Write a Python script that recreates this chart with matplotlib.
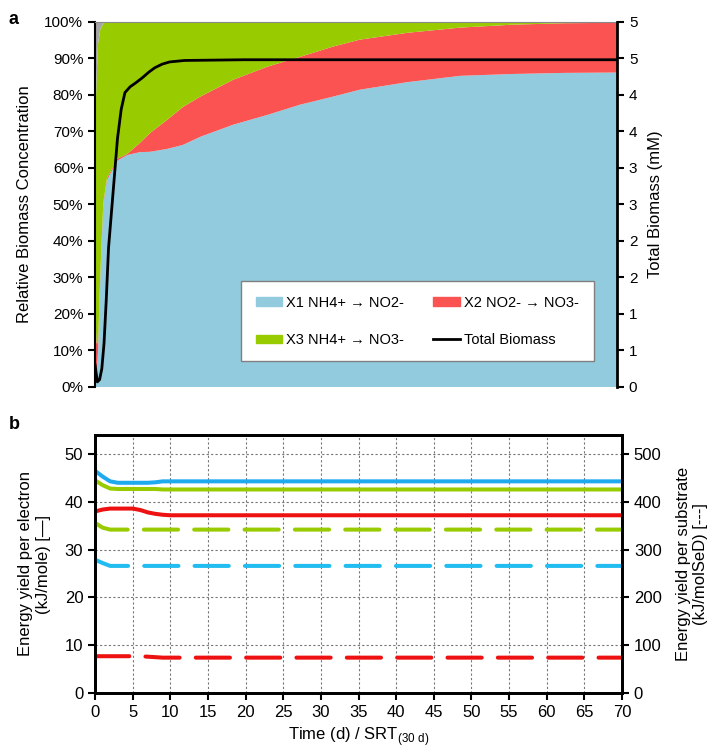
import matplotlib
matplotlib.use("Agg")
import matplotlib.pyplot as plt
import numpy as np

plt.rcParams['font.family'] = ['Liberation Sans', 'DejaVu Sans']

# panel a: relative biomass fractions over time (d)
t_a = [0, 0.2, 0.4, 0.7, 1.1, 1.6, 3, 4.3, 6, 7.4, 9.7, 11.8, 14.1, 18.5,
       23.1, 27.5, 31.9, 35.5, 42, 49, 56, 63, 70]
x1_share = [0.0, 0.03, 0.10, 0.30, 0.50, 0.567, 0.62, 0.635, 0.643, 0.644,
            0.652, 0.663, 0.685, 0.718, 0.745, 0.773, 0.795, 0.814, 0.835,
            0.852, 0.857, 0.86, 0.861]
x2_share = [0.2, 0.09, 0.02, 0.01, 0.005, 0.005, 0.005, 0.003, 0.025, 0.052,
            0.08, 0.104, 0.11, 0.123, 0.132, 0.131, 0.137, 0.137, 0.135,
            0.132, 0.135, 0.136, 0.136]
x4_share = [0.3, 0.15, 0.06, 0.02, 0.005, 0, 0, 0, 0, 0, 0, 0, 0, 0, 0, 0,
            0, 0, 0, 0, 0, 0, 0]

t_bio = [0, 0.3, 0.6, 0.9, 1.2, 1.5, 1.8, 2.2, 2.6, 3.0, 3.5, 4.0, 4.7, 5.4,
         6.3, 7.2, 8.0, 9.0, 10, 12, 20, 40, 70]
total_biomass = [0.3, 0.07, 0.1, 0.25, 0.6, 1.2, 1.9, 2.4, 2.9, 3.4, 3.8,
                 4.03, 4.11, 4.16, 4.23, 4.31, 4.37, 4.42, 4.45, 4.47, 4.48,
                 4.48, 4.48]

# panel b: energy yields
t_b = [0, 1, 2, 3, 4, 5, 6, 7, 8, 9, 10, 15, 20, 30, 40, 50, 60, 70]
blue_solid = [46.5, 45.3, 44.3, 44.0, 44.0, 44.0, 44.0, 44.0, 44.1, 44.3,
              44.3, 44.3, 44.3, 44.3, 44.3, 44.3, 44.3, 44.3]
green_solid = [44.5, 43.5, 42.8, 42.7, 42.7, 42.7, 42.7, 42.7, 42.7, 42.6,
               42.6, 42.6, 42.6, 42.6, 42.6, 42.6, 42.6, 42.6]
red_solid = [38.0, 38.4, 38.6, 38.6, 38.6, 38.6, 38.3, 37.8, 37.5, 37.3,
             37.2, 37.2, 37.2, 37.2, 37.2, 37.2, 37.2, 37.2]
green_dash = [356, 346, 342, 342, 342, 342, 342, 342, 342, 342, 342, 342,
              342, 342, 342, 342, 342, 342]
blue_dash = [279, 272, 266, 266, 266, 266, 266, 266, 266, 266, 266, 266, 266,
             266, 266, 266, 266, 266]
red_dash = [77, 77, 77, 77, 77, 77, 77, 76, 75, 74, 74, 74, 74, 74, 74, 74,
            74, 74]

bio_ticks = [0, 0.5, 1, 1.5, 2, 2.5, 3, 3.5, 4, 4.5, 5]
bio_labels = ['0', '1', '1', '2', '2', '3', '3', '4', '4', '5', '5']

c_blue = '#92cbdd'
c_red = '#fb5252'
c_green = '#99cc00'
c_gray = '#a6a6a6'

fig = plt.figure(figsize=(7.15, 7.5), dpi=100)

# ---- panel a
ax = fig.add_axes([0.133, 0.484, 0.730, 0.487])
x3_share = 1 - np.array(x1_share) - np.array(x2_share) - np.array(x4_share)
ax.stackplot(t_a, x1_share, x2_share, x3_share, x4_share,
             colors=[c_blue, c_red, c_green, c_gray], linewidth=0)
ax.set_xlim(0, 70)
ax.set_ylim(0, 1)
ax.set_yticks(np.arange(0, 1.01, 0.1))
ax.set_yticklabels([f"{v}%" for v in range(0, 101, 10)], fontsize=11)
ax.set_xticks([])
ax.set_ylabel("Relative Biomass Concentration", fontsize=12, labelpad=9)
ax.spines['top'].set_color('#888888')
ax.spines['bottom'].set_visible(False)
ax.spines['left'].set_linewidth(1.5)
ax.spines['right'].set_visible(False)
ax.tick_params(axis='y', direction='out', length=5, width=1.5)

ax2 = ax.twinx()
ax2.plot(t_bio, total_biomass, color='black', lw=2)
ax2.set_ylim(0, 5)
ax2.set_yticks(bio_ticks)
ax2.set_yticklabels(bio_labels, fontsize=11)
ax2.set_ylabel("Total Biomass (mM)", fontsize=12, labelpad=8)
ax2.spines['right'].set_linewidth(2)
ax2.spines['top'].set_visible(False)
ax2.spines['bottom'].set_visible(False)
ax2.spines['left'].set_visible(False)
ax2.tick_params(axis='y', direction='out', length=5, width=1.5)

handles = [plt.Rectangle((0, 0), 1, 1, color=c_blue),
           plt.Rectangle((0, 0), 1, 1, color=c_red),
           plt.Rectangle((0, 0), 1, 1, color=c_green),
           plt.Line2D([], [], color='black', lw=2)]
labels = ["X1 NH4+ → NO2-", "X2 NO2- → NO3-", "X3 NH4+ → NO3-",
          "Total Biomass"]
order = [0, 2, 1, 3]
leg = ax2.legend([handles[i] for i in order], [labels[i] for i in order],
                 ncol=2, loc='lower right', bbox_to_anchor=(0.969, 0.05),
                 frameon=True, fancybox=False, framealpha=1, fontsize=10.5,
                 handlelength=1.8, handleheight=0.5, handletextpad=0.3,
                 columnspacing=2.0, labelspacing=1.6, borderpad=1.0)
leg.get_frame().set_edgecolor('#808080')
leg.get_frame().set_linewidth(1)

fig.text(0.012, 0.985, "a", fontsize=13, fontweight='bold', va='top')

# ---- panel b
bx = fig.add_axes([0.133, 0.076, 0.737, 0.344])
bx.plot(t_b, blue_solid, color='#1faaf0', lw=2.9)
bx.plot(t_b, green_solid, color=c_green, lw=2.9)
bx.plot(t_b, red_solid, color='#ee1111', lw=2.9)
bx.set_xlim(0, 70)
bx.set_ylim(0, 54)
bx.set_xticks(np.arange(0, 71, 5))
bx.set_yticks(np.arange(0, 51, 10))
bx.grid(True, color='#777777', linestyle=(0, (2, 2)), linewidth=0.8)
bx.tick_params(axis='both', direction='out', length=5, width=1.5,
               labelsize=12)
for s in bx.spines.values():
    s.set_linewidth(2)
bx.set_xlabel(r"Time (d) / SRT$_{\mathregular{(30\ d)}}$", fontsize=12)
bx.set_ylabel("Energy yield per electron\n(kJ/mole) [—]", fontsize=12,
              labelpad=10)

bx2 = bx.twinx()
for vals, col in [(green_dash, c_green), (blue_dash, '#22bdf0'),
                  (red_dash, '#ee1111')]:
    bx2.plot(t_b, vals, color=col, lw=2.9, linestyle=(0, (8.5, 4)),
             dash_capstyle='round')
bx2.set_ylim(0, 540)
bx2.set_yticks(np.arange(0, 501, 100))
bx2.tick_params(axis='y', direction='out', length=5, width=1.5,
                labelsize=12)
bx2.set_ylabel("Energy yield per substrate\n(kJ/molSeD) [---]", fontsize=12,
               labelpad=10)
for s in bx2.spines.values():
    s.set_linewidth(2)

fig.text(0.012, 0.445, "b", fontsize=13, fontweight='bold', va='top')

fig.savefig("out.png", dpi=100)
